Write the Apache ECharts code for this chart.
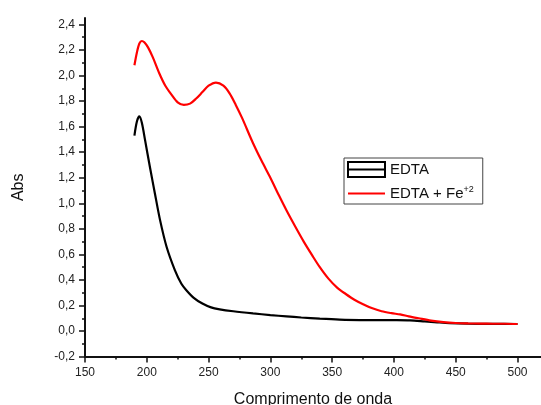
<!DOCTYPE html>
<html>
<head>
<meta charset="utf-8">
<script src="https://cdn.jsdelivr.net/npm/echarts@6/dist/echarts.min.js"></script>
<style>
html,body{margin:0;padding:0;background:#fff;}
#chart{width:541px;height:405px;}
</style>
</head>
<body>
<div id="chart"></div>
<script>
// Wavelength (nm) and absorbance for EDTA
var edtaX = [190,192,194,196,198.5,202.6,206.6,210.7,216,222.8,228,232,238,245,252,259,270,286,300,313,325,340,356,380,400,413,425,435,445,460,480,500];
var edtaY = [1.53,1.64,1.68,1.63,1.50,1.28,1.075,0.87,0.66,0.475,0.37,0.32,0.26,0.215,0.185,0.17,0.155,0.138,0.125,0.115,0.106,0.097,0.09,0.086,0.085,0.083,0.075,0.068,0.062,0.058,0.056,0.055];
// Wavelength (nm) and absorbance for EDTA + Fe+2
var feX = [190,192,194,196,198,201,205,210,215,220,225,230,235,240,245,250,256,262,267,272,277,286,293,300,307,313,320,327,334,340,347,354,361,368,375,382,390,398,405,412,420,430,440,450,460,470,480,490,500];
var feY = [2.08,2.18,2.25,2.27,2.26,2.22,2.14,2.02,1.92,1.85,1.79,1.77,1.78,1.82,1.87,1.92,1.945,1.92,1.86,1.77,1.67,1.47,1.33,1.20,1.06,0.945,0.82,0.70,0.59,0.50,0.41,0.34,0.29,0.245,0.21,0.18,0.155,0.14,0.13,0.115,0.10,0.082,0.07,0.063,0.06,0.058,0.057,0.057,0.055];
// Axis ticks
var xMajorTicks = [150,200,250,300,350,400,450,500];
var xMinorTicks = [175,225,275,325,375,425,475];
var yMajorTicks = [-0.2,0,0.2,0.4,0.6,0.8,1.0,1.2,1.4,1.6,1.8,2.0,2.2,2.4];
var yMinorTicks = [-0.1,0.1,0.3,0.5,0.7,0.9,1.1,1.3,1.5,1.7,1.9,2.1,2.3];
var seriesNames = ['EDTA','EDTA + Fe+2'];

function pairs(xs, ys){ return xs.map(function(x,i){ return [x, ys[i]]; }); }

var axisColor = '#111';
var font = 'Liberation Sans, Arial';
var chart = echarts.init(document.getElementById('chart'), null, {renderer:'canvas'});
chart.setOption({
  animation:false,
  backgroundColor:'#fff',
  grid:{left:85, right:0, top:18, bottom:48.4, containLabel:false, outerBoundsMode:'none'},
  legend:{
    orient:'vertical', left:344, top:158,
    borderColor:'#444', borderWidth:1, padding:[3,9,3,3],
    itemWidth:37, itemHeight:15, itemGap:7, symbolKeepAspect:true,
    textStyle:{fontFamily:font, fontSize:15, color:'#111',
      rich:{sup:{fontSize:9, verticalAlign:'top', padding:[0,0,8,0], color:'#111', fontFamily:font}}},
    formatter:function(n){ return n === seriesNames[1] ? 'EDTA + Fe{sup|+2}' : n; },
    data:[
      {name:seriesNames[0], icon:'path://M0,0H37V15H0ZM0,7.5H37', itemStyle:{color:'#fff', borderColor:'#000', borderWidth:2}},
      {name:seriesNames[1], icon:'path://M0,0H37V2.2H0Z', itemStyle:{color:'#ff0000', borderWidth:0}}
    ]
  },
  xAxis:[{
    type:'value', min:150, max:519, position:'bottom',
    name:'Comprimento de onda', nameLocation:'middle', nameGap:35,
    nameTextStyle:{fontFamily:font, fontSize:16, color:'#111'},
    axisLine:{show:true, onZero:false, lineStyle:{color:axisColor, width:2}},
    axisTick:{show:true, customValues:xMajorTicks, length:6, inside:false, lineStyle:{color:axisColor, width:1.5}},
    axisLabel:{customValues:xMajorTicks, margin:10, fontFamily:font, fontSize:12, color:'#222'},
    splitLine:{show:false}
  },{
    type:'value', min:150, max:519, position:'bottom',
    axisLine:{show:false, onZero:false},
    axisTick:{show:true, customValues:xMinorTicks, length:3, inside:false, lineStyle:{color:axisColor, width:1.5}},
    axisLabel:{show:false},
    splitLine:{show:false}
  }],
  yAxis:[{
    type:'value', min:-0.2, max:2.45, position:'left',
    name:'Abs', nameLocation:'middle', nameGap:58,
    nameTextStyle:{fontFamily:font, fontSize:16, color:'#111'},
    axisLine:{show:true, onZero:false, lineStyle:{color:axisColor, width:2}},
    axisTick:{show:true, customValues:yMajorTicks, length:6, inside:false, lineStyle:{color:axisColor, width:1.5}},
    axisLabel:{customValues:yMajorTicks, margin:10, fontFamily:font, fontSize:12, color:'#222',
      formatter:function(v){ return v.toFixed(1).replace('.',','); }},
    splitLine:{show:false}
  },{
    type:'value', min:-0.2, max:2.45, position:'left',
    axisLine:{show:false, onZero:false},
    axisTick:{show:true, customValues:yMinorTicks, length:3, inside:false, lineStyle:{color:axisColor, width:1.5}},
    axisLabel:{show:false},
    splitLine:{show:false}
  }],
  series:[
    {name:seriesNames[0], type:'line', xAxisIndex:0, yAxisIndex:0, data:pairs(edtaX, edtaY),
      smooth:0.3, showSymbol:false, symbol:'none', lineStyle:{color:'#000', width:2.2}, itemStyle:{color:'#000'}, z:2},
    {name:seriesNames[1], type:'line', xAxisIndex:0, yAxisIndex:0, data:pairs(feX, feY),
      smooth:0.3, showSymbol:false, symbol:'none', lineStyle:{color:'#ff0000', width:2.2}, itemStyle:{color:'#ff0000'}, z:3}
  ]
});
</script>
</body>
</html>
